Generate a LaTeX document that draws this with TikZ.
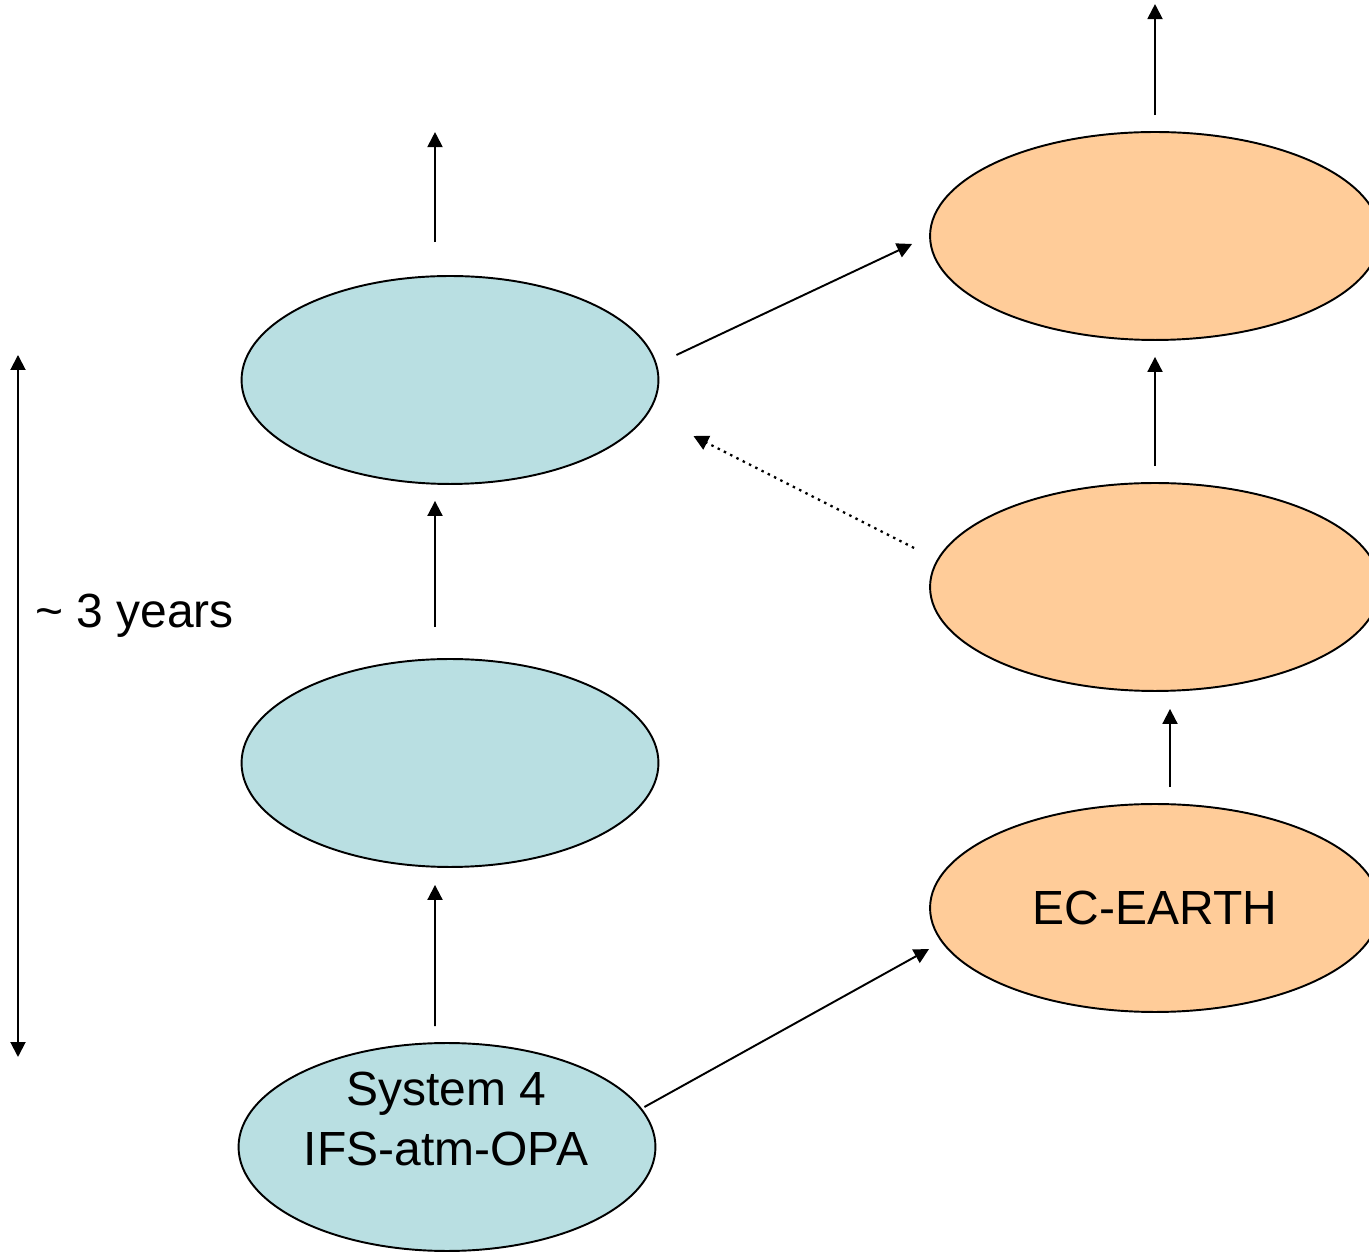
\documentclass[tikz,border=0pt]{standalone}
\usepackage{fontspec}
\setmainfont{Liberation Sans}
\usetikzlibrary{arrows.meta,shapes.geometric}
\definecolor{bluefill}{RGB}{185,223,226}
\definecolor{orangefill}{RGB}{255,204,153}
\begin{document}
\begin{tikzpicture}[x=0.02cm,y=0.02cm,
  every node/.style={font=\fontsize{27.3}{34.6}\selectfont},
  blueell/.style={ellipse,draw=black,line width=1.1pt,fill=bluefill,minimum width=8.34cm,minimum height=4.16cm,inner sep=0pt},
  orangeell/.style={ellipse,draw=black,line width=1.1pt,fill=orangefill,minimum width=9cm,minimum height=4.16cm,inner sep=0pt},
  arr/.style={line width=1.1pt,-{Triangle[length=0.3cm,width=0.3cm]}},
  dotarr/.style={line width=1.3pt,dash pattern=on 1.4pt off 2.6pt,-{Triangle[length=0.3cm,width=0.3cm]}}
]
\useasboundingbox (0,0) rectangle (1369,1251);
\begin{scope}
\clip (0,0) rectangle (1369,1251);
% blue ellipses
\node[blueell] (b1) at (450,871) {};
\node[blueell] (b2) at (450,488) {};
\node[blueell] (b3) at (447,104) {};
\node[align=center,inner sep=0pt] (s4) at (446,132) {System 4\\IFS-atm-OPA};
% orange ellipses
\node[orangeell] (o1) at (1155,1015) {};
\node[orangeell] (o2) at (1155,664) {};
\node[orangeell] (o3) at (1155,343) {EC-EARTH};
\end{scope}
% vertical arrows, left column
\draw[arr] ([xshift=-0.3cm,yshift=0.66cm]b1.north) -- ++(0,110);
\draw[arr,shorten <=0.62cm,shorten >=0.32cm] ([xshift=-0.3cm]b2.north) -- ([xshift=-0.3cm]b1.south);
\draw[arr,shorten <=0.32cm,shorten >=0.34cm] ([xshift=-0.24cm]b3.north) -- ([xshift=-0.3cm]b2.south);
% vertical arrows, right column
\draw[arr] ([yshift=0.32cm]o1.north) -- ++(0,111);
\draw[arr,shorten <=0.32cm,shorten >=0.32cm] (o2.north) -- (o1.south);
\draw[arr,shorten <=0.32cm,shorten >=0.34cm] ([xshift=0.3cm]o3.north) -- ([xshift=0.3cm]o2.south);
% diagonal arrows
\draw[arr] ([shift={(17,25)}]b1.east) -- ([shift={(-17,-8)}]o1.west);
\draw[dotarr] ([shift={(-15,39)}]o2.west) -- ([shift={(34,-56)}]b1.east);
\draw[arr] ([shift={(-12,40)}]b3.east) -- ([shift={(0,-41)}]o3.west);
% time span
\coordinate (ytop) at (18,896);
\coordinate (ybot) at (18,194);
\draw[line width=1.1pt,{Triangle[length=0.3cm,width=0.3cm]}-{Triangle[length=0.3cm,width=0.3cm]}] (ybot) -- (ytop);
\node[anchor=base west,inner sep=0pt] (yrs) at (35,623) {\char`\~{} 3 years};
\end{tikzpicture}
\end{document}
